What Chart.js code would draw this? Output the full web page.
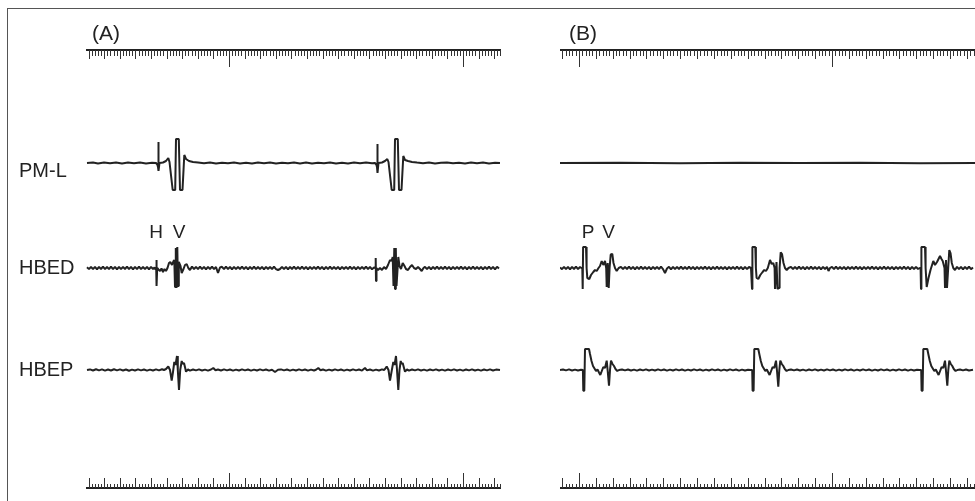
<!DOCTYPE html>
<html>
<head>
<meta charset="utf-8">
<script src="https://cdn.jsdelivr.net/npm/chart.js@4.4.1/dist/chart.umd.min.js"></script>
<style>
  html, body { margin: 0; padding: 0; background: #fff; }
  #fig { position: relative; width: 975px; height: 501px; overflow: hidden; }
  #frame { position: absolute; left: 7px; top: 8px; width: 980px; height: 500px;
           border-top: 1px solid #555; border-left: 1px solid #555; }
  #cA { position: absolute; left: 0; top: 0; }
  #cB { position: absolute; left: 540px; top: 0; }
</style>
</head>
<body>
<div id="fig">
  <div id="frame"></div>
  <canvas id="cA" width="520" height="501"></canvas>
  <canvas id="cB" width="435" height="501"></canvas>
</div>
<script>
// lanes
const traceNames = ['PM-L', 'HBED', 'HBEP'];
const laneBase = [0, -105, -207];
const laneLabelAt = [-8, -105, -207];
const panelNames = ['(A)', '(B)'];
const marksA = ['H', 'V'];
const marksAt_A = [70, 93];
const marksB = ['P', 'V'];
const marksAt_B = [28, 48.5];

// ruler: major ticks (x units), 75 minor divisions between majors, medium every 5
const rulerMajorA = [143, 377];
const rulerMajorB = [19, 272];

// traces, [time, amplitude]
const pmlA = [[1,0],[7,0.6],[12,-0.4],[18,0.5],[24,-0.3],[30,0.6],[36,-0.5],[42,0.4],[48,-0.3],[54,0.5],[60,-0.4],[66,0.3],[70,0],
  [71.3,-1.5],[72,-4],[72.3,21],[72.7,-8],[73.5,0],[77,0.5],[80,2],[82.3,5],[83.5,1],[86.7,-27],[89.2,-27],[90,24],[92.8,24],[94,-27],[96.5,-27],[98.3,8],[100,4],[103,2],[107,1],
  [112,0.5],[118,-0.3],[124,0.4],[130,-0.5],[136,0.3],[142,-0.3],[148,0.5],[154,-0.4],[160,0.3],[166,-0.6],[172,0.4],[178,-0.3],[184,0.5],[190,-0.4],[196,0.3],[202,-0.3],[208,0.6],[214,-0.4],[220,0.4],[226,-0.5],[232,0.3],[238,-0.3],[244,0.5],[250,-0.4],[256,0.3],[262,-0.4],[268,0.4],[274,-0.3],[280,0.5],[286,-0.3],[289,0],
  [290.3,-1.5],[291,-4],[291.3,19],[291.7,-10],[292.5,0],[296,0.5],[299,2],[301.3,4],[302.5,1],[305.7,-27],[308.2,-27],[309,24],[311.8,24],[313,-27],[315.5,-27],[317.3,7],[319,3],[322,2],[326,1],
  [331,0.4],[337,-0.3],[343,0.5],[349,-0.4],[355,0.3],[361,0.6],[367,-0.3],[373,0.3],[379,-0.4],[385,0.5],[391,-0.3],[397,0.4],[403,-0.4],[409,0.3],[414,0]];

const hbedA = [[1,0.8],[3,-1.1],[5,1.2],[7,-1.2],[9,1.1],[11,-1.3],[13,1.2],[15,-1],[17,1.3],[19,-1.2],[21,1],[23,-1.2],[25,1.3],[27,-1.1],[29,1.2],[31,-1.3],[33,1.1],[35,-1.2],[37,1.2],[39,-1],[41,1.3],[43,-1.2],[45,1.1],[47,-1.3],[49,1.2],[51,-1.1],[53,1.3],[55,-1.2],[57,1],[59,-1.2],[61,1.2],[63,-1.3],[65,1.1],[67,-1],
  [68.5,0.5],[69.5,-1.5],[70.2,0],[70.4,8],[70.7,-18],[71.2,0],[72.5,-1.5],[74,-3],[75.5,-0.5],[77,-4],[78.5,-1],[80,-3],[81.5,0],[83,5],[84.3,6],[86,3],[87.5,7],[88.3,8],[89,-19],[89.8,20],[90.5,-20],[91.3,21],[92,-18],[92.8,6],[94.5,2],[95.7,-5],[97.5,-1],[99,3],[100.7,4],[102.3,0],[104,-2],[106,1.5],
  [108,-1.2],[110,1.2],[112,-1.1],[114,1.3],[116,-1.2],[118,1.1],[120,-1.3],[122,1.2],[124,-1],[126,1.3],[128,-1.2],[130,1],[132,-5],[134,0.5],[136,1.2],[138,-1.2],[140,1.3],[142,-1.1],[144,1.2],[146,-1.3],[148,1.1],[150,-1.2],[152,1.2],[154,-1],[156,1.3],[158,-1.2],[160,1.1],[162,-1.3],[164,1.2],[166,-1.1],[168,1.3],[170,-1.2],[172,1],[174,-1.2],[176,1.2],[178,-1.3],[180,1.1],[182,-1],[184,1.2],[186,-1.2],[188,1.3],[190,-1.1],[192,-2],[194,-1],[196,1.2],[198,-1.2],[200,1.1],[202,-1.3],[204,1.2],[206,-1],[208,1.3],[210,-1.2],[212,1],[214,-1.2],[216,1.3],[218,-1.1],[220,1.2],[222,-1.3],[224,1.1],[226,-1.2],[228,1.2],[230,-1],[232,1.3],[234,-1.2],[236,1.1],[238,-1.3],[240,1.2],[242,-1.1],[244,1.3],[246,-1.2],[248,1],[250,-1.2],[252,1.2],[254,-1.3],[256,1.1],[258,-1],[260,1.2],[262,-1.2],[264,1.3],[266,-1.1],[268,1.2],[270,-1.3],[272,1.1],[274,-1.2],[276,1.2],[278,-1],[280,1.3],[282,-1.2],[284,1.1],[286,-1.3],[288,0.5],
  [289.3,0],[289.7,10],[290,-13],[290.5,0],[292,-2],[294,0],[296,-2],[298,1],[300,-1],[302,3],[304,8],[305.5,7],[306.7,11],[307.5,-18],[308.3,20],[309,-21],[309.8,20],[310.5,-18],[311.5,-2],[312.3,11],[313.5,2],[315,-1],[316.7,5],[318.5,2],[320,-1],[322,-2],[324,1],[326,3],[328,0],[330,-1],[332,1],[334,-1],[335.7,-3],[337.5,0],
  [339,1.2],[341,-1.2],[343,1.1],[345,-1.3],[347,1.2],[349,-1],[351,1.3],[353,-1.2],[355,1],[357,-1.2],[359,1.3],[361,-1.1],[363,1.2],[365,-1.3],[367,1.1],[369,-1.2],[371,1.2],[373,-1],[375,1.3],[377,-1.2],[379,1.1],[381,-1.3],[383,1.2],[385,-1.1],[387,1.3],[389,-1.2],[391,1],[393,-1.2],[395,1.2],[397,-1.3],[399,1.1],[401,-1],[403,1.3],[405,-1.2],[407,1.1],[409,-1.3],[411,1.2],[413,-0.5]];

const hbepA = [[1,0],[4,0.6],[7,-0.5],[10,0.7],[13,-0.4],[16,0.6],[19,-0.6],[22,0.5],[25,-0.5],[28,0.7],[31,-0.4],[34,0.6],[37,-0.5],[40,0.5],[43,-0.7],[46,0.4],[49,-0.5],[52,0.6],[55,-0.4],[58,0.5],[61,-0.6],[64,0.4],[67,-0.5],[70,0.6],[73,-0.4],[76,0.8],[78,0],
  [80,1],[82.3,3.5],[84,0],[85.7,-10.7],[87,-2],[88.3,8],[89.5,5],[91,14],[91.8,0],[93,-20],[94.2,0],[95.7,9],[96.8,6],[98,7],[99.2,2],[100,-1.7],[102,0.5],[104,-0.6],
  [107,0.5],[110,-0.4],[113,0.6],[116,-0.5],[119,0.4],[122,-0.6],[125,0.5],[127.3,2],[129.5,-0.3],[132,0.5],[135,-0.5],[138,0.6],[141,-0.4],[144,0.5],[147,-0.6],[150,0.4],[153,-0.5],[156,0.6],[159,-0.4],[162,0.5],[165,-0.6],[168,0.4],[171,-0.5],[174,0.6],[177,-0.4],[180,0.5],[183,-0.6],[186,0.3],[189,-2],[192,0.2],[195,0.6],[198,-0.4],[201,0.5],[204,-0.6],[207,0.4],[210,-0.5],[213,0.6],[216,-0.4],[219,0.5],[222,-0.6],[225,0.4],[228,-0.5],[230,0.3],[232.3,2],[234.5,-0.3],[237,0.5],[240,-0.6],[243,0.4],[246,-0.5],[249,0.6],[252,-0.4],[255,0.5],[258,-0.6],[261,0.4],[264,-0.5],[267,0.6],[270,-0.4],[273,0.5],[276,-0.6],[279,2],[281,-0.4],[284,0.5],[287,-0.6],[290,0.4],[293,-0.5],[296,0.6],[298,0],
  [299,1],[300.7,3.5],[302.5,0],[304,-10.7],[305.5,-2],[307.3,8],[308.5,5],[310,14],[311,0],[312.3,-20],[313.5,0],[314.7,9],[315.7,6],[316.7,7],[318,2],[319,-1.7],[321,0.5],[323,-0.6],
  [326,0.5],[329,-0.4],[332,0.6],[335,-0.5],[338,0.4],[341,-0.6],[344,0.5],[347,-0.4],[350,0.6],[353,-0.5],[356,0.4],[359,-0.6],[362,0.5],[365,-0.4],[368,0.6],[371,-0.5],[374,0.4],[377,-0.6],[380,0.5],[383,-0.4],[386,0.6],[389,-0.5],[392,0.4],[395,-0.6],[398,0.5],[401,-0.4],[404,0.6],[407,-0.5],[410,0.4],[414,0]];

const pmlB = [[0,0],[60,0.2],[120,-0.2],[180,0.2],[240,-0.1],[300,0.2],[360,-0.2],[415,0]];

const hbedB = [[0,0.5],[2,-1.1],[4,1.2],[6,-1.2],[8,1.1],[10,-1.3],[12,1.2],[14,-1],[16,1.3],[18,-1.2],[20,1],[21.5,0],
  [22.3,0],[22.7,-21],[23.1,21],[26,21],[26.6,0],[27.3,-10],[29.3,-11],[31,-7],[33.3,-4],[35,-2],[36.7,-3],[38.5,0],[40,2],[41.7,7],[43.3,3],[45,7],[46.2,0],[46.7,-19],[47.7,5],[48.7,-20],[49.6,0],[50.7,13.5],[52.3,14],[53.5,5],[55,0],[56.7,-3],[58.7,0],
  [61,1.1],[63,-1.2],[65,1.2],[67,-1],[69,1.3],[71,-1.2],[73,1.1],[75,-1.3],[77,1.2],[79,-1.1],[81,1.3],[83,-1.2],[85,1],[87,-1.2],[89,1.2],[91,-1.3],[93,1.1],[95,-1],[97,1.2],[99,-1.2],[101,1.3],[103,-1.1],[105,-5],[107,-0.5],[109,1.2],[111,-1.3],[113,1.1],[115,-1.2],[117,1.2],[119,-1],[121,1.3],[123,-1.2],[125,1],[127,-1.2],[129,1.3],[131,-1.1],[133,1.2],[135,-1.3],[137,1.1],[139,-1.2],[141,1.2],[143,-1],[145,1.3],[147,-1.2],[149,1.1],[151,-1.3],[153,1.2],[155,-1.1],[157,1.3],[159,-1.2],[161,1],[163,-1.2],[165,1.2],[167,-1.3],[169,1.1],[171,-1],[173,1.2],[175,-1.2],[177,1.3],[179,-1.1],[181,1.2],[183,-1.3],[185,1.1],[187,-1.2],[189,1],[191,0],
  [191.6,0],[192,-21],[192.4,21],[195.3,21],[195.9,0],[196.6,-10],[198.3,-11],[200.3,-7],[202.6,-4],[204.3,-2],[206,-3],[207.8,0],[210,8],[211.7,4],[213.3,5],[214.6,0],[215,-21],[216.5,6],[217.5,-21],[219,-20],[219.6,0],[220.7,15.7],[222,14],[223.5,5],[225,0],[226.7,-2],[228.5,0],
  [231,1.1],[233,-1.2],[235,1.2],[237,-1],[239,1.3],[241,-1.2],[243,1.1],[245,-1.3],[247,1.2],[249,-1.1],[251,1.3],[253,-1.2],[255,1],[257,-1.2],[259,1.2],[261,-1.3],[263,1.1],[265,-1],[267,1.2],[268.5,-3],[270,0],[272,1.2],[274,-1.1],[276,1.3],[278,-1.2],[280,1],[282,-1.2],[284,1.2],[286,-1.3],[288,1.1],[290,-1],[292,1.2],[294,-1.2],[296,1.3],[298,-1.1],[300,1.2],[302,-1.3],[304,1.1],[306,-1.2],[308,1.2],[310,-1],[312,1.3],[314,-1.2],[316,1.1],[318,-1.3],[320,1.2],[322,-1.1],[324,1.3],[326,-1.2],[328,1],[330,-1.2],[332,1.2],[334,-1.3],[336,1.1],[338,-1],[340,1.2],[342,-1.2],[344,1.3],[346,-1.1],[348,1.2],[350,-1.3],[352,1.1],[354,-1.2],[356,1.2],[358,-1],[359.8,0],
  [360.6,0],[361,-21],[361.4,21],[365,21],[365.6,0],[366.7,-19],[368.5,-10],[370.5,-2],[373.3,7],[375,3],[377,6],[380,12],[381.5,9],[382.7,7],[384.5,0],[385,-20],[386,8],[387,-20],[388.2,0],[389.3,18],[390.5,15],[391.8,5],[393.3,0],[395,-2],
  [397,1.2],[399,-1.2],[401,1.1],[403,-1.3],[405,1.2],[407,-1],[409,1.3],[411,-1.2],[413,0.5]];

const hbepB = [[0,0],[3,0.5],[6,-0.4],[9,0.6],[12,-0.5],[15,0.4],[18,-0.5],[21,0.3],
  [22.9,0],[23.3,-20.7],[24.3,-20.7],[25,21],[29,21],[30,16],[31.5,9],[33,4],[34.5,1.5],[36,-1],[37.5,0.5],[39,-2.5],[40.3,-5],[41.8,-1],[43.3,3],[45,2],[46.7,9.3],[47.8,-2],[49,-15.7],[50,0],[51,9.3],[52.5,6],[54,4],[55.5,1],[57.3,-1],[59,0],
  [62,0.5],[65,-0.4],[68,0.5],[71,-0.5],[74,0.4],[77,-0.6],[80,0.5],[83,-0.4],[86,0.6],[89,-0.5],[92,0.4],[95,-0.5],[98,0.6],[101,-0.4],[104,0.5],[107,-0.6],[110,0.4],[113,-0.5],[116,0.6],[119,-0.4],[122,0.5],[125,-0.6],[128,0.4],[131,-0.5],[134,0.6],[137,-0.4],[140,0.5],[143,-0.6],[146,0.4],[149,-0.5],[152,0.6],[155,-0.4],[158,0.5],[161,-0.6],[164,0.4],[167,-0.5],[170,0.6],[173,-0.4],[176,0.5],[179,-0.6],[182,0.4],[185,-0.5],[188,0.3],[190.5,0],
  [192.2,0],[192.6,-20.7],[193.6,-20.7],[194.3,21],[198.3,21],[199.3,16],[200.8,9],[202.3,4],[203.8,1.5],[205.3,-1],[206.8,0.5],[208.3,-2.5],[209.6,-5],[211.1,-1],[212.6,3],[214.3,2],[216,9.3],[217.1,-2],[218.3,-16.7],[219.3,0],[220.3,9.3],[221.8,6],[223.3,4],[224.8,1],[226.6,-1],[228.3,0],
  [231,0.5],[234,-0.4],[237,0.5],[240,-0.5],[243,0.4],[246,-0.6],[249,0.5],[252,-0.4],[255,0.6],[258,-0.5],[261,0.4],[264,-0.5],[267,0.6],[270,-0.4],[273,0.5],[276,-0.6],[279,0.4],[282,-0.5],[285,0.6],[288,-0.4],[291,0.5],[294,-0.6],[297,0.4],[300,-0.5],[303,0.6],[306,-0.4],[309,0.5],[312,-0.6],[315,0.4],[318,-0.5],[321,0.6],[324,-0.4],[327,0.5],[330,-0.6],[333,0.4],[336,-0.5],[339,0.6],[342,-0.4],[345,0.5],[348,-0.6],[351,0.4],[354,-0.5],[357,0.3],[359.5,0],
  [361.2,0],[361.6,-20.7],[362.6,-20.7],[363.3,21],[367.3,21],[368.3,16],[369.8,9],[371.3,4],[372.8,1.5],[374.3,-1],[375.8,0.5],[377.3,-2.5],[378.6,-5],[380.1,-1],[381.6,3],[383.3,2],[385,9.3],[386.1,-2],[387.3,-15.7],[388.3,0],[389.3,9.3],[390.8,6],[392.3,4],[393.8,1],[395.6,-1],[397.3,0],
  [400,0.5],[403,-0.4],[406,0.5],[409,-0.5],[413,0.2]];

// vertical layout on the shared y scale
const yMin = -338, yMax = 163;
const rulerTopAt = 113, rulerBottomAt = -325;
const panelLabelAt = 123, marksY = -75;

const ink = '#222';
const fontFamily = '"Liberation Sans", Arial, Helvetica, sans-serif';

const rulers = {
  id: 'rulers',
  afterDatasetsDraw(chart, args, opts) {
    const { ctx, chartArea } = chart;
    const xs = chart.scales.x, ys = chart.scales.y;
    const m0 = opts.majors[0];
    const step = (opts.majors[1] - opts.majors[0]) / 75;
    const yT = Math.round(ys.getPixelForValue(rulerTopAt));
    const yB = Math.round(ys.getPixelForValue(rulerBottomAt));
    ctx.save();
    ctx.strokeStyle = ink;
    ctx.lineWidth = 2;
    ctx.beginPath();
    ctx.moveTo(chartArea.left, yT); ctx.lineTo(chartArea.right, yT);
    ctx.moveTo(chartArea.left, yB); ctx.lineTo(chartArea.right, yB);
    ctx.stroke();
    ctx.lineWidth = 1;
    ctx.strokeStyle = '#333';
    const topLen = [6, 9, 17], botLen = [4, 10, 15];
    ctx.beginPath();
    for (let k = Math.ceil((xs.min - m0) / step); m0 + k * step <= xs.max; k++) {
      const px = Math.round(xs.getPixelForValue(m0 + k * step)) + 0.5;
      const m = ((k % 75) + 75) % 75;
      const kind = m === 0 ? 2 : (m % 5 === 0 ? 1 : 0);
      ctx.moveTo(px, yT); ctx.lineTo(px, yT + topLen[kind]);
      ctx.moveTo(px, yB); ctx.lineTo(px, yB - botLen[kind]);
    }
    ctx.stroke();
    ctx.restore();
  }
};

const labels = {
  id: 'labels',
  afterDatasetsDraw(chart, args, opts) {
    const { ctx, chartArea } = chart;
    const xs = chart.scales.x, ys = chart.scales.y;
    ctx.save();
    ctx.fillStyle = ink;
    ctx.font = '21px ' + fontFamily;
    ctx.textBaseline = 'alphabetic';
    ctx.textAlign = 'left';
    ctx.fillText(opts.panel, chartArea.left + opts.panelDx, ys.getPixelForValue(panelLabelAt));
    ctx.font = '19px ' + fontFamily;
    ctx.textAlign = 'center';
    opts.marks.forEach((t, i) => {
      ctx.fillText(t, xs.getPixelForValue(opts.marksAt[i]), ys.getPixelForValue(marksY));
    });
    ctx.restore();
  }
};

function buildDatasets(traces) {
  return traces.map((tr, i) => ({
    label: traceNames[i],
    data: tr.map(([x, v]) => ({ x: x, y: v + laneBase[i] })),
    borderColor: ink,
    borderWidth: 2,
    borderJoinStyle: 'bevel',
    pointRadius: 0,
    tension: 0,
    fill: false
  }));
}

function makeChart(id, traces, showNames, pad, majors, panel, panelDx, marks, marksAt) {
  return new Chart(document.getElementById(id), {
    type: 'line',
    data: { datasets: buildDatasets(traces) },
    plugins: [rulers, labels],
    options: {
      responsive: false,
      animation: false,
      devicePixelRatio: 1,
      layout: { padding: pad },
      plugins: {
        legend: { display: false },
        tooltip: { enabled: false },
        rulers: { majors: majors },
        labels: { panel: panel, panelDx: panelDx, marks: marks, marksAt: marksAt }
      },
      scales: {
        x: { type: 'linear', min: 0, max: 415, display: false },
        y: {
          type: 'linear', min: yMin, max: yMax,
          display: showNames,
          grid: { display: false },
          border: { display: false },
          afterBuildTicks: s => { s.ticks = laneLabelAt.map(v => ({ value: v })); },
          afterFit: s => {
            s.width = showNames ? 67 : 0;
            s.paddingTop = 0; s.paddingBottom = 0;
          },
          ticks: {
            autoSkip: false,
            crossAlign: 'far',
            padding: 0,
            color: ink,
            font: { size: 20, family: fontFamily },
            callback: (v, i) => traceNames[i]
          }
        }
      }
    }
  });
}

makeChart('cA', [pmlA, hbedA, hbepA], true, { left: 19, right: 19, top: 0, bottom: 0 },
  rulerMajorA, panelNames[0], 6, marksA, marksAt_A);
makeChart('cB', [pmlB, hbedB, hbepB], false, { left: 20, right: 0, top: 0, bottom: 0 },
  rulerMajorB, panelNames[1], 9, marksB, marksAt_B);
</script>
</body>
</html>
